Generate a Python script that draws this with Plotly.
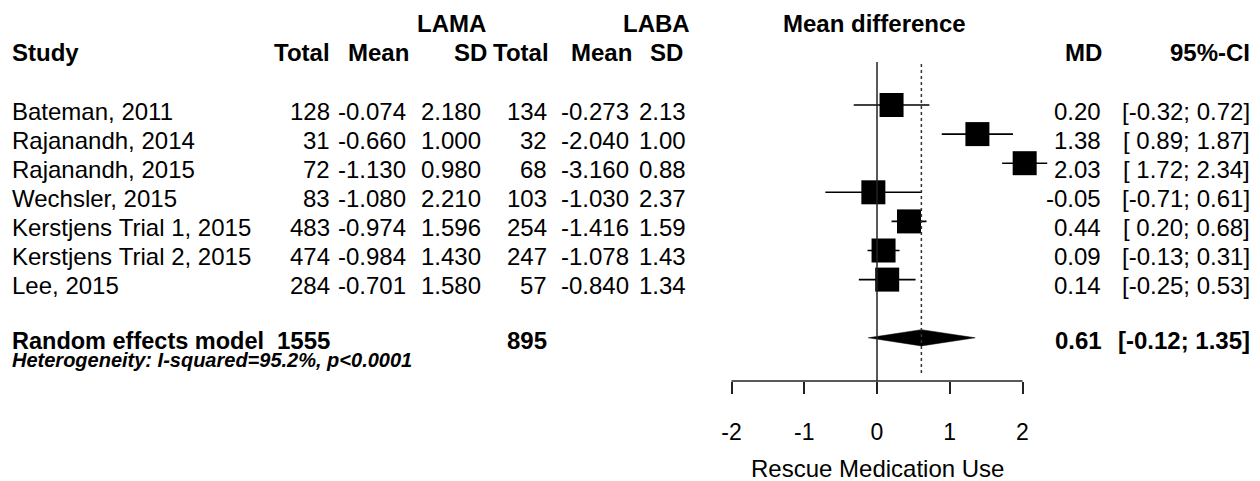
import plotly.graph_objects as go

# study level data
studies = ["Bateman, 2011", "Rajanandh, 2014", "Rajanandh, 2015", "Wechsler, 2015",
           "Kerstjens Trial 1, 2015", "Kerstjens Trial 2, 2015", "Lee, 2015"]
n_lama = [128, 31, 72, 83, 483, 474, 284]
mean_lama = [-0.074, -0.660, -1.130, -1.080, -0.974, -0.984, -0.701]
sd_lama = [2.180, 1.000, 0.980, 2.210, 1.596, 1.430, 1.580]
n_laba = [134, 32, 68, 103, 254, 247, 57]
mean_laba = [-0.273, -2.040, -3.160, -1.030, -1.416, -1.078, -0.840]
sd_laba = [2.13, 1.00, 0.88, 2.37, 1.59, 1.43, 1.34]
md = [0.20, 1.38, 2.03, -0.05, 0.44, 0.09, 0.14]
ci_lo = [-0.32, 0.89, 1.72, -0.71, 0.20, -0.13, -0.25]
ci_hi = [0.72, 1.87, 2.34, 0.61, 0.68, 0.31, 0.53]

# random effects model
pooled_md = 0.61
pooled_lo = -0.12
pooled_hi = 1.35
total_lama = 1555
total_laba = 895
heterogeneity = "Heterogeneity: I-squared=95.2%, p<0.0001"

x_ticks = [-2, -1, 0, 1, 2]

# layout helpers, positions given in page pixels (page is 1260 x 481)
W, H = 1260, 481
ZERO_PX, PX_PER_UNIT = 877, 72.75
ROW0_PX, ROW_PX = 105, 29.1
AXIS_PX = 381
TEXT_SHIFT = -6
FONT = "Liberation Sans, Arial, Helvetica, sans-serif"
BODY = 24


def px(x):
    return x / W


def row_at(p):
    return (p - ROW0_PX) / ROW_PX


def nb(s):
    return s.replace(" ", "\u00a0")


rows = list(range(len(studies)))
pooled_row = len(studies) + 1

fig = go.Figure()

# confidence intervals
ci_x, ci_y = [], []
for lo, hi, r in zip(ci_lo, ci_hi, rows):
    ci_x += [lo, hi, None]
    ci_y += [r, r, None]
fig.add_trace(go.Scatter(x=ci_x, y=ci_y, mode="lines",
                         line=dict(color="black", width=1.6), hoverinfo="skip"))

# study boxes
fig.add_trace(go.Scatter(x=md, y=rows, mode="markers",
                         marker=dict(symbol="square", size=24, color="black"),
                         hoverinfo="skip"))

# pooled diamond
h = 0.28
fig.add_trace(go.Scatter(
    x=[pooled_lo, pooled_md, pooled_hi, pooled_md, pooled_lo],
    y=[pooled_row, pooled_row - h, pooled_row, pooled_row + h, pooled_row],
    mode="lines", fill="toself", fillcolor="black",
    line=dict(color="black", width=0.5), hoverinfo="skip"))

y_top = row_at(0)
y_bot = row_at(AXIS_PX)

# no-effect line, pooled estimate line, axis line
fig.add_shape(type="line", x0=0, x1=0, y0=row_at(62), y1=y_bot,
              xref="x", yref="y", line=dict(color="#222", width=1.5))
fig.add_shape(type="line", x0=pooled_md, x1=pooled_md,
              y0=row_at(64), y1=row_at(374),
              xref="x", yref="y", line=dict(color="#333", width=1.5, dash="dot"))
fig.add_shape(type="line", x0=x_ticks[0], x1=x_ticks[-1], y0=0, y1=0,
              xref="x", yref="paper", line=dict(color="#222", width=1.5))


def label(x, row, text, anchor="right", bold=False, size=BODY, italic=False,
          shift=TEXT_SHIFT):
    t = nb(text)
    if bold:
        t = "<b>" + t + "</b>"
    if italic:
        t = "<i>" + t + "</i>"
    fig.add_annotation(x=px(x), y=row, xref="paper", yref="y", text=t,
                       showarrow=False, xanchor=anchor, yanchor="middle",
                       yshift=shift, borderpad=0, borderwidth=0,
                       font=dict(family=FONT, size=size, color="black"))


# header lines
label(486, -3, "LAMA", bold=True)
label(690, -3, "LABA", bold=True)
label(874, -3, "Mean difference", anchor="center", bold=True)
label(12, -2, "Study", anchor="left", bold=True)
for x, t in [(330, "Total"), (409, "Mean"), (487, "SD"), (549, "Total"),
             (632, "Mean"), (683, "SD"), (1102, "MD"), (1250, "95%-CI")]:
    label(x, -2, t, bold=True)

# study rows
for r in rows:
    label(12, r, studies[r], anchor="left")
    label(330, r, f"{n_lama[r]}")
    label(406, r, f"{mean_lama[r]:.3f}")
    label(481, r, f"{sd_lama[r]:.3f}")
    label(547, r, f"{n_laba[r]}")
    label(629, r, f"{mean_laba[r]:.3f}")
    label(686, r, f"{sd_laba[r]:.2f}")
    label(1101, r, f"{md[r]:.2f}")
    label(1250, r, f"[{ci_lo[r]:5.2f};{ci_hi[r]:5.2f}]")

# pooled row
label(12, pooled_row, "Random effects model", anchor="left", bold=True, size=23.5, shift=-3)
label(330, pooled_row, f"{total_lama}", bold=True, shift=-3)
label(547, pooled_row, f"{total_laba}", bold=True, shift=-3)
label(1102, pooled_row, f"{pooled_md:.2f}", bold=True, shift=-3)
label(1250, pooled_row, f"[{pooled_lo:5.2f};{pooled_hi:5.2f}]", bold=True, shift=-3)
label(12, row_at(360), heterogeneity, anchor="left", bold=True, italic=True,
      size=20, shift=0)

# axis title centred under the scale
fig.add_annotation(x=0, y=0, xref="x", yref="paper", text="Rescue Medication Use",
                   showarrow=False, xanchor="center", yanchor="middle",
                   yshift=-(468 - AXIS_PX),
                   font=dict(family=FONT, size=24, color="black"))

fig.update_layout(
    width=W, height=H,
    margin=dict(l=0, r=0, t=0, b=H - AXIS_PX),
    plot_bgcolor="white", paper_bgcolor="white",
    showlegend=False,
    xaxis=dict(range=[-ZERO_PX / PX_PER_UNIT, (W - ZERO_PX) / PX_PER_UNIT],
               tickvals=x_ticks, ticktext=[str(v) for v in x_ticks],
               ticks="outside", ticklen=12, tickwidth=1.5, tickcolor="#222",
               ticklabelstandoff=18,
               showline=False, showgrid=False, zeroline=False,
               tickfont=dict(family=FONT, size=23, color="black")),
    yaxis=dict(range=[y_bot, y_top], visible=False),
)

# drop the default 8px body margin so the figure fills the window
fig.write_html("out.html", config={"displayModeBar": False},
               post_script="document.body.style.margin = '0';")
